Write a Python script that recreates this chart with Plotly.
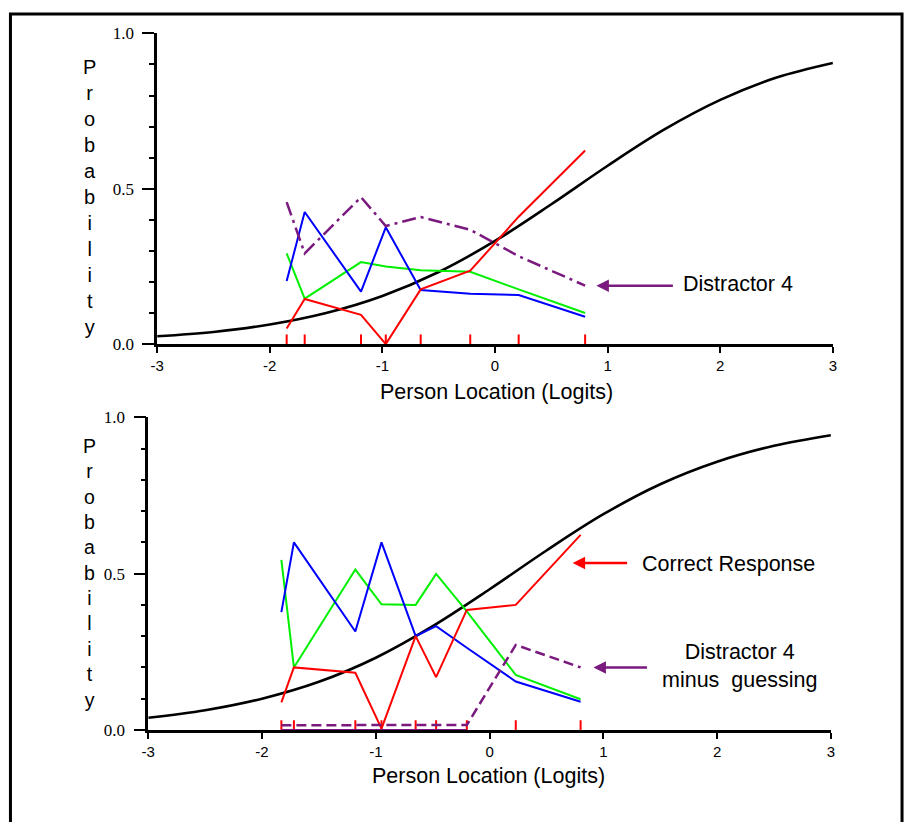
import plotly.graph_objects as go

# ---------------- data ----------------
# Theoretical ICC (read at half-logit steps)
icc_x = [-3.0, -2.5, -2.0, -1.5, -1.0, -0.5, 0.0, 0.5, 1.0, 1.5, 2.0, 2.5, 3.0]
icc_top = [0.025, 0.039, 0.063, 0.100, 0.155, 0.232, 0.332, 0.450, 0.574, 0.690, 0.786, 0.858, 0.905]
icc_bottom = [0.039, 0.063, 0.100, 0.154, 0.231, 0.332, 0.450, 0.574, 0.690, 0.786, 0.858, 0.909, 0.943]

# Class-interval locations and observed proportions, top panel
ci_top = [-1.85, -1.69, -1.19, -0.97, -0.66, -0.22, 0.21, 0.80]
red_top = [0.050, 0.145, 0.094, 0.000, 0.176, 0.236, 0.410, 0.623]
blue_top = [0.203, 0.425, 0.169, 0.376, 0.174, 0.162, 0.158, 0.088]
green_top = [0.292, 0.146, 0.264, 0.250, 0.238, 0.233, 0.176, 0.100]
purple_top = [0.457, 0.292, 0.473, 0.380, 0.409, 0.368, 0.283, 0.188]

# Class-interval locations and observed proportions, bottom panel
ci_bot = [-1.83, -1.72, -1.18, -0.95, -0.65, -0.47, -0.20, 0.23, 0.80]
red_bot = [0.088, 0.200, 0.183, 0.004, 0.300, 0.169, 0.384, 0.400, 0.624]
blue_bot = [0.377, 0.600, 0.315, 0.600, 0.300, 0.332, 0.263, 0.155, 0.090]
green_bot = [0.544, 0.200, 0.513, 0.402, 0.400, 0.499, 0.379, 0.176, 0.098]
purple_bot = [0.015, 0.015, 0.015, 0.015, 0.015, 0.015, 0.016, 0.272, 0.200]
purple_bot_floor = [0.0, 0.0, 0.0, 0.0, 0.0, 0.0, 0.0]

x_ticks = [-3, -2, -1, 0, 1, 2, 3]
x_ticktext = ["-3", "-2", "-1", "0", "1", "2", "3"]
y_ticks = [0.0, 0.5, 1.0]
y_ticktext = ["0.0", "0.5", "1.0"]

RED = "#ff0000"
BLUE = "#0000ff"
GREEN = "#00f000"
PURPLE = "#7a1a7f"
RUG_H = 0.031

W, H = 909, 822


def px(x):
    return x / W


def py(y):
    return 1 - y / H


def rug(xs):
    rx, ry = [], []
    for v in xs:
        rx += [v, v, None]
        ry += [0, RUG_H, None]
    return rx, ry


fig = go.Figure()


def add_panel(xa, ya, icc, ci, red, blue, green):
    fig.add_trace(go.Scatter(x=icc_x, y=icc, mode="lines", line=dict(color="black", width=2.6, shape="spline"),
                             xaxis=xa, yaxis=ya, showlegend=False, hoverinfo="skip"))
    fig.add_trace(go.Scatter(x=ci, y=green, mode="lines", line=dict(color=GREEN, width=2),
                             xaxis=xa, yaxis=ya, showlegend=False))
    fig.add_trace(go.Scatter(x=ci, y=blue, mode="lines", line=dict(color=BLUE, width=2),
                             xaxis=xa, yaxis=ya, showlegend=False))
    fig.add_trace(go.Scatter(x=ci, y=red, mode="lines", line=dict(color=RED, width=2),
                             xaxis=xa, yaxis=ya, showlegend=False))
    rx, ry = rug(ci)
    fig.add_trace(go.Scatter(x=rx, y=ry, mode="lines", line=dict(color=RED, width=2),
                             xaxis=xa, yaxis=ya, showlegend=False, hoverinfo="skip"))


# top panel
add_panel("x", "y", icc_top, ci_top, red_top, blue_top, green_top)
fig.add_trace(go.Scatter(x=ci_top, y=purple_top, mode="lines",
                         line=dict(color=PURPLE, width=2.5, dash="14px,5px,3px,5px"),
                         xaxis="x", yaxis="y", showlegend=False))

# bottom panel
add_panel("x2", "y2", icc_bottom, ci_bot, red_bot, blue_bot, green_bot)
fig.add_trace(go.Scatter(x=ci_bot[:7], y=purple_bot_floor, mode="lines",
                         line=dict(color=PURPLE, width=2),
                         xaxis="x2", yaxis="y2", showlegend=False))
fig.add_trace(go.Scatter(x=ci_bot, y=purple_bot, mode="lines",
                         line=dict(color=PURPLE, width=2.5, dash="10px,5px"),
                         xaxis="x2", yaxis="y2", showlegend=False))

xaxis_common = dict(range=[-3, 3], tickvals=x_ticks, ticktext=x_ticktext, ticks="outside",
                    ticklen=6, tickwidth=2, tickcolor="black", showline=True, linewidth=2.5,
                    linecolor="black", showgrid=False, zeroline=False,
                    tickfont=dict(family="Liberation Sans, Arial", size=15, color="black"))
yaxis_common = dict(range=[0, 1], tickvals=y_ticks, ticktext=y_ticktext, ticks="outside",
                    ticklen=12, tickwidth=2, tickcolor="black", showline=True, linewidth=2.5,
                    linecolor="black", showgrid=False, zeroline=False, ticklabelstandoff=5,
                    minor=dict(dtick=0.1, tick0=0, ticks="outside", ticklen=5, tickwidth=2,
                               tickcolor="black", showgrid=False),
                    tickfont=dict(family="Liberation Serif, Times New Roman", size=17, color="black"))

fig.update_layout(
    width=W, height=H,
    margin=dict(l=0, r=0, t=0, b=0),
    paper_bgcolor="white", plot_bgcolor="white",
    xaxis=dict(domain=[px(152), px(836)], anchor="y", **xaxis_common),
    yaxis=dict(domain=[py(343), py(25)], anchor="x", **yaxis_common),
    xaxis2=dict(domain=[px(143), px(834)], anchor="y2", **xaxis_common),
    yaxis2=dict(domain=[py(738), py(418)], anchor="x2", **yaxis_common),
)

label_font = dict(family="Liberation Sans, Arial", size=21.5, color="black")
ylabel_font = dict(family="Liberation Sans, Arial", size=20, color="black")
ylabel = "<br>".join(list("Probability"))

annotations = [
    dict(text=ylabel, x=px(84), y=py(192), xref="paper", yref="paper", showarrow=False,
         xanchor="center", yanchor="middle", font=ylabel_font, align="center"),
    dict(text=ylabel, x=px(84), y=py(577), xref="paper", yref="paper", showarrow=False,
         xanchor="center", yanchor="middle", font=dict(ylabel_font, size=19.5), align="center"),
    dict(text="Person Location (Logits)", x=px(496), y=py(392), xref="paper", yref="paper",
         showarrow=False, xanchor="center", yanchor="middle", font=label_font),
    dict(text="Person Location (Logits)", x=px(487), y=py(785), xref="paper", yref="paper",
         showarrow=False, xanchor="center", yanchor="middle", font=label_font),
    # top: Distractor 4 pointer
    dict(text="", x=0.90, y=purple_top[-1], xref="x", yref="y",
         ax=78, ay=0, showarrow=True, arrowhead=2,
         arrowsize=1, arrowwidth=2.5, arrowcolor=PURPLE),
    dict(text="Distractor 4", x=px(682), y=py(282), xref="paper", yref="paper", showarrow=False,
         xanchor="left", yanchor="middle", font=label_font),
    # bottom: correct response pointer
    dict(text="", x=0.73, y=0.534, xref="x2", yref="y2",
         ax=56, ay=0, showarrow=True, arrowhead=2, arrowsize=1, arrowwidth=2.5, arrowcolor=RED),
    dict(text="Correct Response", x=px(641), y=py(568), xref="paper", yref="paper",
         showarrow=False, xanchor="left", yanchor="middle", font=label_font),
    # bottom: distractor minus guessing pointer
    dict(text="", x=0.913, y=purple_bot[-1], xref="x2", yref="y2",
         ax=55, ay=0, showarrow=True, arrowhead=2, arrowsize=1, arrowwidth=2.5, arrowcolor=PURPLE),
    dict(text="Distractor 4<br>minus  guessing", x=px(741), y=py(673), xref="paper", yref="paper",
         showarrow=False, xanchor="center", yanchor="middle", align="center", font=label_font),
]
fig.update_layout(annotations=annotations)

# outer frame
fig.add_shape(type="rect", xref="paper", yref="paper", x0=px(3.5), x1=px(906), y0=-0.05, y1=py(5),
              line=dict(color="black", width=3), fillcolor="rgba(0,0,0,0)", layer="above")

fig.write_html("out.html")
